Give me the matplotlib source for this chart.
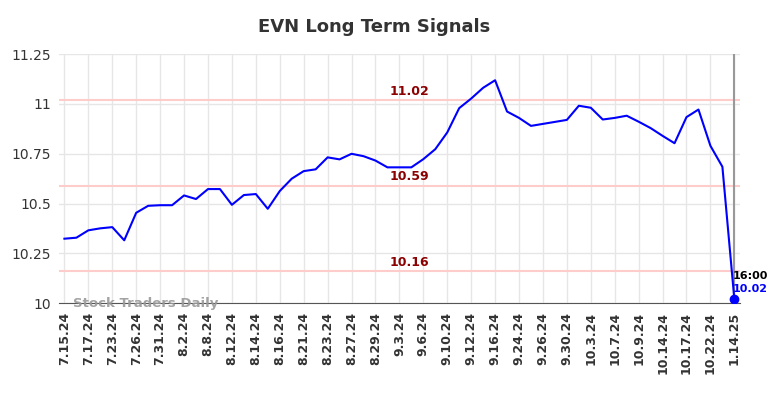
import matplotlib
matplotlib.use("Agg")
import matplotlib.pyplot as plt
import numpy as np

# price series, one value per trading day shown
prices = [10.324, 10.329, 10.366, 10.376, 10.382, 10.316, 10.454, 10.489, 10.492, 10.492,
          10.541, 10.523, 10.573, 10.573, 10.494, 10.543, 10.548, 10.474, 10.563, 10.625,
          10.663, 10.672, 10.732, 10.722, 10.750, 10.738, 10.716, 10.682, 10.682, 10.682,
          10.723, 10.773, 10.857, 10.979, 11.027, 11.081, 11.119, 10.962, 10.930, 10.890,
          10.900, 10.910, 10.920, 10.991, 10.981, 10.922, 10.930, 10.941, 10.911, 10.879,
          10.840, 10.803, 10.934, 10.972, 10.790, 10.685, 10.02]

tick_labels = ["7.15.24", "7.17.24", "7.23.24", "7.26.24", "7.31.24", "8.2.24", "8.8.24",
               "8.12.24", "8.14.24", "8.16.24", "8.21.24", "8.23.24", "8.27.24", "8.29.24",
               "9.3.24", "9.6.24", "9.10.24", "9.12.24", "9.16.24", "9.24.24", "9.26.24",
               "9.30.24", "10.3.24", "10.7.24", "10.9.24", "10.14.24", "10.17.24",
               "10.22.24", "1.14.25"]

levels = [11.02, 10.59, 10.16]

fig = plt.figure(figsize=(7.84, 3.98), dpi=100)
ax = fig.add_axes([0.0753, 0.238, 0.869, 0.626])

x = np.arange(len(prices))
ax.plot(x, prices, color="blue", linewidth=1.5, zorder=3)
ax.plot(x[-1], prices[-1], "o", color="blue", markersize=6, zorder=4)

# support / resistance levels
for lv in levels:
    ax.axhline(lv, color="#ffcccc", linewidth=1.5, zorder=1)
    ax.text(28.8, lv + 0.012, f"{lv:.2f}", color="#8b0000", fontsize=9,
            fontweight="bold", ha="center", va="bottom")

ax.axvline(x[-1], color="#999999", linewidth=1.5, zorder=2)

ax.set_xlim(-0.45, 56.5)
ax.set_ylim(10, 11.25)
ticks = list(range(0, 55, 2)) + [56]
ax.set_xticks(ticks)
ax.set_xticklabels(tick_labels, rotation=90, fontsize=9, fontweight="bold", color="#333333")
ax.set_yticks([10, 10.25, 10.5, 10.75, 11, 11.25])
ax.set_yticklabels(["10", "10.25", "10.5", "10.75", "11", "11.25"], fontsize=10, color="#333333")
ax.tick_params(length=0, pad=6)
ax.grid(True, color="#e6e6e6", linewidth=1)
ax.set_axisbelow(True)
for s in ["top", "right", "left"]:
    ax.spines[s].set_visible(False)
ax.spines["bottom"].set_color("#555555")

ax.text(x[-1] - 0.1, prices[-1] + 0.115, "16:00", fontsize=8, fontweight="bold",
        color="black", ha="left", va="center")
ax.text(x[-1] - 0.1, prices[-1] + 0.05, f"{prices[-1]:.2f}", fontsize=8,
        fontweight="bold", color="blue", ha="left", va="center")

ax.text(0.75, 10.0, "Stock Traders Daily", fontsize=9.5, fontweight="bold",
        color="#999999", ha="left", va="center", alpha=0.9)

fig.suptitle("EVN Long Term Signals", x=0.477, y=0.955, fontsize=13,
             fontweight="bold", color="#333333")

fig.savefig("out.png", dpi=100)
